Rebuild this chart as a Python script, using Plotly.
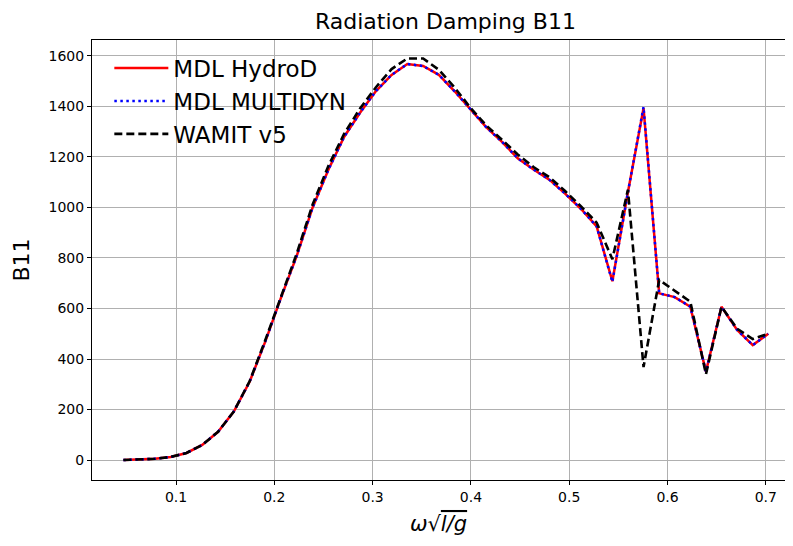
import plotly.graph_objects as go

omega = [0.0465, 0.0625, 0.0786, 0.0946, 0.1107, 0.1267, 0.1428, 0.1588, 0.1749, 0.1909,
         0.2070, 0.2230, 0.2390, 0.2551, 0.2711, 0.2872, 0.3032, 0.3193, 0.3353, 0.3514,
         0.3674, 0.3834, 0.3995, 0.4155, 0.4316, 0.4476, 0.4637, 0.4797, 0.4958, 0.5118,
         0.5279, 0.5439, 0.5597, 0.5756, 0.5915, 0.6073, 0.6232, 0.6391, 0.6549, 0.6708,
         0.6867, 0.7025]

hydrod = [0, 2, 5, 12, 28, 60, 112, 192, 310, 470,
          645, 810, 1000, 1150, 1280, 1375, 1460, 1525, 1568, 1560,
          1525, 1460, 1388, 1318, 1260, 1195, 1150, 1110, 1055, 995,
          925, 708, 1060, 1393, 660, 645, 607, 350, 607, 515,
          455, 500]

multidyn = [0, 2, 5, 12, 28, 60, 112, 192, 310, 470,
            645, 810, 1000, 1150, 1280, 1375, 1460, 1525, 1568, 1560,
            1525, 1460, 1388, 1318, 1260, 1195, 1150, 1110, 1055, 995,
            925, 705, 1060, 1398, 660, 645, 607, 350, 607, 515,
            455, 500]

wamit = [0, 2, 5, 12, 28, 60, 112, 192, 312, 475,
         650, 820, 1012, 1165, 1292, 1392, 1475, 1548, 1590, 1590,
         1545, 1475, 1395, 1325, 1268, 1210, 1160, 1120, 1065, 1005,
         940, 795, 1070, 368, 713, 670, 627, 340, 607, 520,
         479, 500]

x_ticks = [0.1, 0.2, 0.3, 0.4, 0.5, 0.6, 0.7]
y_ticks = [0, 200, 400, 600, 800, 1000, 1200, 1400, 1600]

fig = go.Figure()
fig.add_trace(go.Scatter(x=omega, y=hydrod, mode="lines", name="MDL HydroD",
                         line=dict(color="red", width=2.5)))
fig.add_trace(go.Scatter(x=omega, y=multidyn, mode="lines", name="MDL MULTIDYN",
                         line=dict(color="blue", width=2.5, dash="2.5px,3.5px")))
fig.add_trace(go.Scatter(x=omega, y=wamit, mode="lines", name="WAMIT v5",
                         line=dict(color="black", width=2.6, dash="8px,4px")))

axis_common = dict(showgrid=True, gridcolor="#b0b0b0", gridwidth=1,
                   showline=True, linecolor="black", linewidth=1, mirror=True,
                   ticks="outside", ticklen=4, tickcolor="black",
                   zeroline=False, tickfont=dict(size=14, color="black"))

# page body has an 8px margin on every side, so the figure is sized to fit the window
fig.update_layout(
    width=777, height=530,
    margin=dict(l=84, r=0, t=32, b=58),
    paper_bgcolor="white", plot_bgcolor="white",
    font=dict(family="DejaVu Sans", color="black"),
    title=dict(text="Radiation Damping B11", x=0.563, xanchor="center",
               y=0.974, yanchor="middle", font=dict(size=22)),
    xaxis=dict(range=[0.01455, 0.7195], tickvals=x_ticks,
               ticktext=[str(v) for v in x_ticks],
               title=dict(text="<i>ω</i>√<span style='text-decoration:overline'><i>l/g</i></span>",
                          font=dict(size=21), standoff=12),
               **axis_common),
    yaxis=dict(range=[-79, 1663], tickvals=y_ticks,
               ticktext=[str(v) for v in y_ticks],
               title=dict(text="B11", font=dict(size=22), standoff=12),
               **axis_common),
    legend=dict(x=0.025, y=0.985, xanchor="left", yanchor="top",
                bgcolor="rgba(0,0,0,0)", font=dict(size=23), tracegroupgap=0,
                itemwidth=54),
    showlegend=True,
)

fig.write_html("out.html")
